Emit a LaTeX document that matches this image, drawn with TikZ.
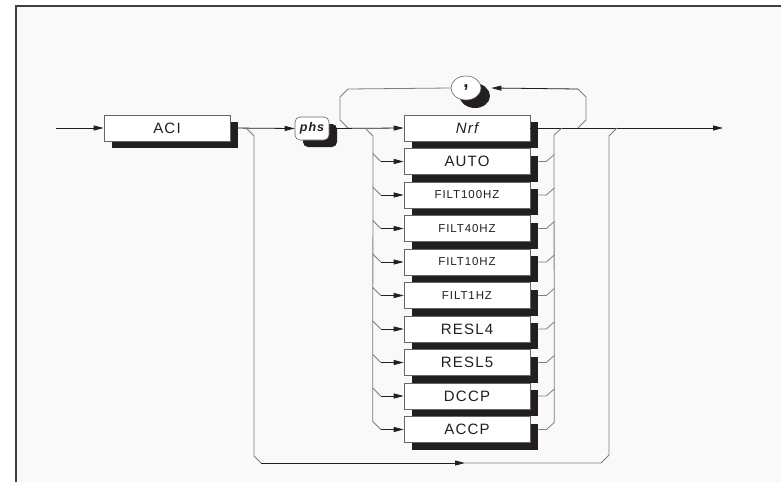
\documentclass[tikz,border=0pt]{standalone}
\usepackage{fontspec}
\newfontfamily\railfont[LetterSpace=8]{Liberation Sans}
\usetikzlibrary{arrows.meta,positioning,shadows,shapes.geometric}
\definecolor{inkblack}{RGB}{35,31,32}
\definecolor{linegray}{RGB}{125,125,125}
\definecolor{paper}{RGB}{249,249,249}
\tikzset{
  kwbox/.style={draw=black!60, fill=white, line width=0.6pt, inner sep=0pt,
    minimum width=126pt, minimum height=26pt, text=inkblack,
    drop shadow={shadow xshift=8pt, shadow yshift=-7pt, fill=inkblack, opacity=1}},
  bigtxt/.style={font=\railfont\fontsize{15}{15}\selectfont},
  smalltxt/.style={font=\railfont\fontsize{11.5}{11.5}\selectfont},
  flow/.style={draw=inkblack, line width=0.8pt},
  branch/.style={draw=linegray, line width=0.8pt},
  arr/.style={-{Triangle[length=10pt,width=5pt]}},
}

\begin{document}
\begin{tikzpicture}[x=1pt,y=-1pt]
  \useasboundingbox (0,0) rectangle (781,482);
  % frame
  \fill[paper] (16,6) rectangle (781,482);
  \draw[black!75,line width=1.2pt] (16,482) -- (16,6) -- (781,6);

  % keyword, parameter and separator
  \node[kwbox,bigtxt] (aci) at (167,128) {ACI};
  \node[kwbox,minimum width=34pt,minimum height=23pt,rounded corners=5pt,
    font=\railfont\fontsize{12.5}{12.5}\selectfont\bfseries\itshape] (phs) at (312,128.5) {phs};
  \node[kwbox,ellipse,minimum width=30pt,minimum height=24pt,
    drop shadow={shadow xshift=9pt,shadow yshift=-8pt,fill=inkblack,opacity=1},
    font=\railfont\fontsize{19}{19}\selectfont\bfseries] (comma) at (466,88) {,};

  % choice boxes
  \node[kwbox,bigtxt] (b1) at (467,128) {\itshape Nrf};
  \foreach \lbl/\st [count=\i from 2] in {AUTO/bigtxt,FILT100HZ/smalltxt,FILT40HZ/smalltxt,
      FILT10HZ/smalltxt,FILT1HZ/smalltxt,RESL4/bigtxt,RESL5/bigtxt,DCCP/bigtxt,ACCP/bigtxt}{
    \pgfmathtruncatemacro\prev{\i-1}
    \node[kwbox,\st,below=6.9pt of b\prev] (b\i) {\lbl};
  }

  \coordinate (start) at (56,128);
  \coordinate (stop) at (723,128);

  % main line
  \draw[flow,arr] (start) -- (aci.west);
  \draw[flow,arr] (aci.east) -- (phs.west);
  \draw[flow,arr] (phs.east) -- (b1.west);
  \draw[flow,arr] (b1.east) -- (stop);

  % branches in and out of the choice
  \foreach \i in {2,...,10}{
    \draw[branch] ([xshift=-31pt,yshift=8pt]b\i.west) -- ([xshift=-23pt]b\i.west);
    \draw[flow,arr] ([xshift=-23pt]b\i.west) -- (b\i.west);
    \draw[branch] ([xshift=8pt]b\i.east) -- ([xshift=16pt]b\i.east) -- ([xshift=24pt,yshift=7pt]b\i.east);
  }
  \draw[branch] (365,128) -- (373,136) -- ([xshift=-31pt,yshift=8pt]b10.west);
  \draw[branch] ([xshift=24pt,yshift=7pt]b10.east) -- (554,135) -- (562,128);

  % repeat loop
  \draw[branch] (348,128) -- (340,120) -- (340,97) -- (348,89) -- (comma.west);
  \draw[branch] (578,128) -- (586,120) -- (586,97) -- (578,89);
  \draw[flow,arr] (578,89) -- ([xshift=10pt]comma.east);

  % bypass
  \draw[branch] (246,128) -- (254,136) -- (254,456) -- (261,463);
  \draw[flow,arr] (261,463) -- (465,463);
  \draw[branch] (465,463) -- (601,463) -- (609,455) -- (609,136) -- (617,128);
\end{tikzpicture}
\end{document}
